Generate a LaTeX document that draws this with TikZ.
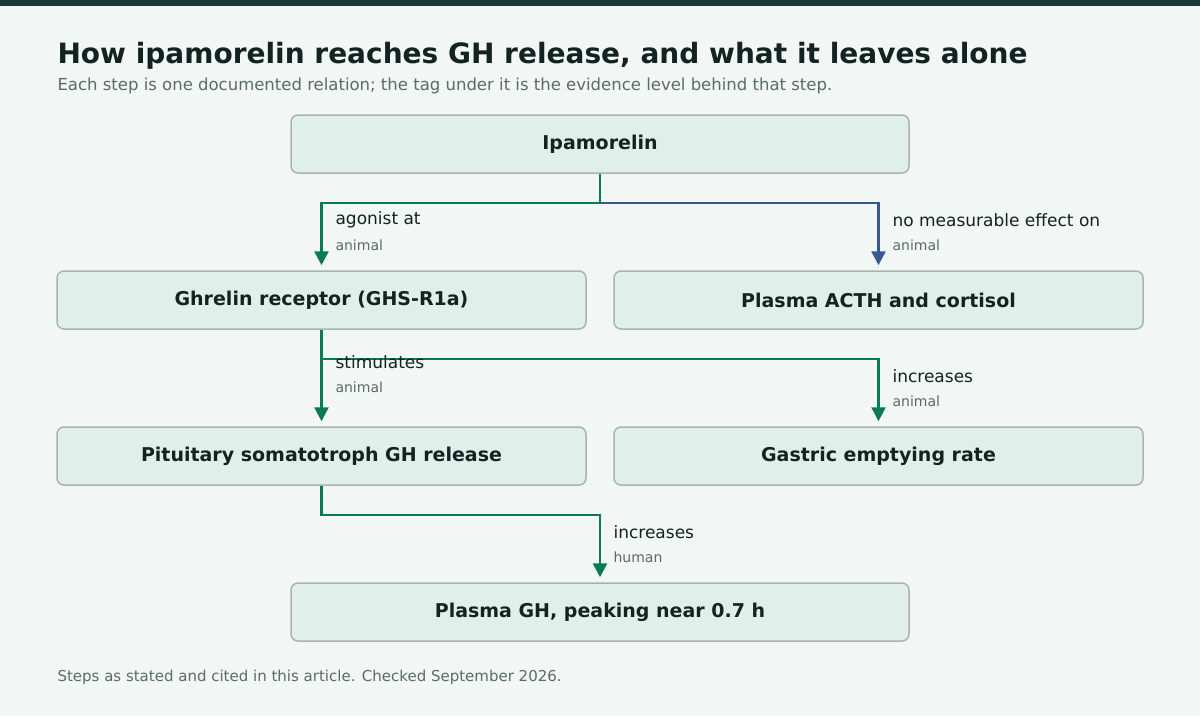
\documentclass[tikz,border=0pt]{standalone}
\usepackage{fontspec}
\setmainfont{DejaVu Sans}
\usetikzlibrary{arrows.meta}
\definecolor{bg}{HTML}{F2F6F5}
\definecolor{bar}{HTML}{163A3A}
\definecolor{nfill}{HTML}{E0EFEA}
\definecolor{nbord}{HTML}{A8B4B0}
\definecolor{grn}{HTML}{0A7A55}
\definecolor{blu}{HTML}{3A5A8F}
\definecolor{txt}{HTML}{13231F}
\definecolor{sub}{HTML}{5B6B66}
\begin{document}
\begin{tikzpicture}[x=1pt,y=-1pt,
  box/.style={draw=nbord,fill=nfill,line width=1.5pt,rounded corners=7pt,minimum height=58pt,font=\fontsize{19}{22}\selectfont\bfseries,text=txt},
  conn/.style={line width=2.5pt,-{Triangle[length=14pt,width=14pt]},shorten >=5pt},
  lab/.style={anchor=west,font=\fontsize{17}{20}\selectfont,text=txt},
  tag/.style={anchor=west,font=\fontsize{14}{16}\selectfont,text=sub}]
\fill[bg] (0,0) rectangle (1200,716);
\useasboundingbox (0,0) rectangle (1200,716);
\fill[bar] (0,0) rectangle (1200,6);
\node[anchor=west,font=\fontsize{28}{32}\selectfont\bfseries,text=txt] (title) at (54,56) {How ipamorelin reaches GH release, and what it leaves alone};
\node[anchor=west,font=\fontsize{16.5}{20}\selectfont,text=sub] (subt) at (54,86) {Each step is one documented relation; the tag under it is the evidence level behind that step.};
\node[box,minimum width=618pt] (ipa) at (600,144) {Ipamorelin};
\node[box,minimum width=529pt] (ghr) at (321.5,300) {Ghrelin receptor (GHS-R1a)};
\node[box,minimum width=529pt] (acth) at (878.5,300) {Plasma ACTH and cortisol};
\node[box,minimum width=529pt] (pit) at (321.5,456) {Pituitary somatotroph GH release};
\node[box,minimum width=529pt] (gas) at (878.5,456) {Gastric emptying rate};
\node[box,minimum width=618pt] (gh) at (600,612) {Plasma GH, peaking near 0.7 h};
\draw[conn,blu] (ipa.south) -- ++(0,29) -| (acth.north);
\draw[conn,grn] (ipa.south) -- ++(0,29) -| (ghr.north);
\draw[conn,grn] (ghr.south) -- ++(0,29) -| (gas.north);
\draw[conn,grn] (ghr.south) -- (pit.north);
\draw[conn,grn] (pit.south) -- ++(0,29) -| (gh.north);
\node[lab] (l1) at (332,220) {agonist at};
\node[tag] (t1) at (332,245) {animal};
\node[lab] (l2) at (889,220) {no measurable effect on};
\node[tag] (t2) at (889,245) {animal};
\node[lab] (l3) at (332,362) {stimulates};
\node[tag] (t3) at (332,387) {animal};
\node[lab] (l4) at (889,376) {increases};
\node[tag] (t4) at (889,401) {animal};
\node[lab] (l5) at (610,532) {increases};
\node[tag] (t5) at (610,557) {human};
\node[anchor=west,font=\fontsize{15}{18}\selectfont,text=sub] (foot) at (54,677) {Steps as stated and cited in this article. Checked September 2026.};
\end{tikzpicture}
\end{document}
